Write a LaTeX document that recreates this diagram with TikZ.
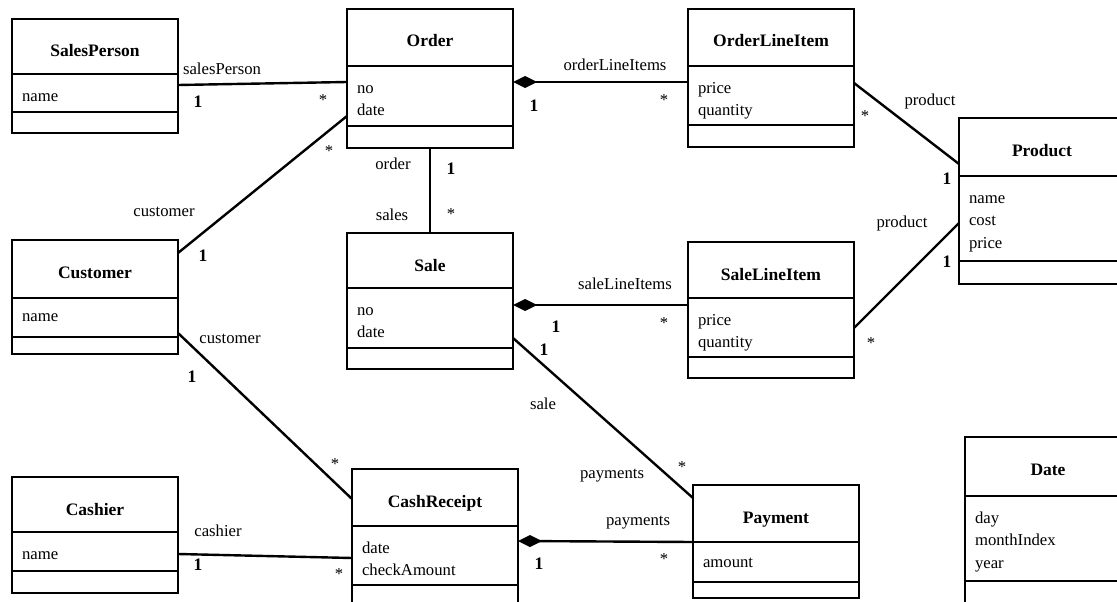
\documentclass[tikz,border=0pt]{standalone}
\usepackage{fontspec}
\setmainfont{Liberation Serif}
\usetikzlibrary{positioning,arrows.meta}

\begin{document}
\begin{tikzpicture}[x=1pt, y=-1pt, node distance=0pt]
	% Define styles
	\tikzstyle{classname} = [rectangle, draw, line width=2.8pt, outer sep=0pt, inner ysep=0pt, anchor=north west, minimum width=166pt, text height=38pt, font=\fontsize{17.5}{21}\selectfont\bfseries]
	\tikzstyle{attrs} = [rectangle, draw, line width=2.8pt, outer sep=0pt, minimum width=166pt, text width=146pt, inner xsep=10pt, inner ysep=0pt, text height=27pt, align=left, font=\fontsize{16.7}{22.5}\selectfont]
	\tikzstyle{ops} = [rectangle, draw, line width=2.8pt, outer sep=0pt, inner sep=0pt, minimum width=166pt]
	\tikzstyle{assoc} = [line width=2.4pt]
	\tikzstyle{comp} = [assoc, {Diamond[length=24pt,width=12pt]}-]
	\tikzstyle{role} = [font=\fontsize{16.7}{20}\selectfont, inner sep=0pt]
	\tikzstyle{mult} = [font=\fontsize{17.5}{20}\selectfont\bfseries, inner sep=0pt]

	\path[use as bounding box, clip] (0,0) rectangle (1117,602);

	% Nodes
	\node[classname, text depth=17pt] (salesperson) at (12,19) {SalesPerson};
	\node[attrs, text depth=11pt, below=of salesperson] (salesperson-attr) {name};
	\node[ops, minimum height=21pt, below=of salesperson-attr] (salesperson-ops) {};

	\node[classname, text depth=20pt] (customer) at (12,240) {Customer};
	\node[attrs, text height=23pt, text depth=16pt, below=of customer] (customer-attr) {name};
	\node[ops, minimum height=17pt, below=of customer-attr] (customer-ops) {};

	\node[classname, text depth=17pt] (cashier) at (12,477) {Cashier};
	\node[attrs, text depth=12pt, below=of cashier] (cashier-attr) {name};
	\node[ops, minimum height=22pt, below=of cashier-attr] (cashier-ops) {};

	\node[classname, text depth=19pt] (order) at (347,9) {Order};
	\node[attrs, text depth=33pt, below=of order] (order-attr) {no\\date};
	\node[ops, minimum height=22pt, below=of order-attr] (order-ops) {};

	\node[classname, text depth=17pt] (sale) at (347,233) {Sale};
	\node[attrs, text depth=33pt, below=of sale] (sale-attr) {no\\date};
	\node[ops, minimum height=21pt, below=of sale-attr] (sale-ops) {};

	\node[classname, text depth=19pt] (cashreceipt) at (352,469) {CashReceipt};
	\node[attrs, text depth=32pt, below=of cashreceipt] (cashreceipt-attr) {date\\checkAmount};
	\node[ops, minimum height=24pt, below=of cashreceipt-attr] (cashreceipt-ops) {};

	\node[classname, text depth=19pt] (orderlineitem) at (688,9) {OrderLineItem};
	\node[attrs, text depth=32pt, below=of orderlineitem] (orderlineitem-attr) {price\\quantity};
	\node[ops, minimum height=22pt, below=of orderlineitem-attr] (orderlineitem-ops) {};

	\node[classname, text depth=18pt] (salelineitem) at (688,242) {SaleLineItem};
	\node[attrs, text depth=32pt, below=of salelineitem] (salelineitem-attr) {price\\quantity};
	\node[ops, minimum height=21pt, below=of salelineitem-attr] (salelineitem-ops) {};

	\node[classname, text depth=19pt] (payment) at (693,485) {Payment};
	\node[attrs, text height=25pt, text depth=15pt, below=of payment] (payment-attr) {amount};
	\node[ops, minimum height=16pt, below=of payment-attr] (payment-ops) {};

	\node[classname, text depth=20pt] (product) at (959,118) {Product};
	\node[attrs, text depth=58pt, below=of product] (product-attr) {name\\cost\\price};
	\node[ops, minimum height=23pt, below=of product-attr] (product-ops) {};

	\node[classname, text depth=21pt] (date) at (965,437) {Date};
	\node[attrs, text depth=58pt, below=of date] (date-attr) {day\\monthIndex\\year};
	\node[ops, minimum height=24pt, below=of date-attr] (date-ops) {};

	% Arrows
	\draw[assoc] ([yshift=-11pt]salesperson-attr.north east) -- ([yshift=-16pt]order-attr.north west);
	\draw[assoc] ([yshift=-13pt]customer.north east) -- ([yshift=-50pt]order-attr.north west);
	\draw[assoc] (order-ops.south) -- (sale.north);
	\draw[comp] ([yshift=-16pt]order-attr.north east) -- ([yshift=-16pt]orderlineitem-attr.north west);
	\draw[assoc] ([yshift=-17pt]orderlineitem-attr.north east) -- ([yshift=-46pt]product.north west);
	\draw[assoc] ([yshift=-30pt]salelineitem-attr.north east) -- ([yshift=-47pt]product-attr.north west);
	\draw[comp] ([yshift=-17pt]sale-attr.north east) -- ([yshift=-7pt]salelineitem-attr.north west);
	\draw[assoc] ([yshift=-50pt]sale-attr.north east) -- ([yshift=-13pt]payment.north west);
	\draw[assoc] ([yshift=-35pt]customer-attr.north east) -- ([yshift=-30pt]cashreceipt.north west);
	\draw[assoc] ([yshift=-22pt]cashier-attr.north east) -- ([yshift=-32pt]cashreceipt-attr.north west);
	\draw[comp] ([yshift=-15pt]cashreceipt-attr.north east) -- (payment-attr.north west);

	% Roles and multiplicities
	\node[role] (role-salesperson) at (222,69) {salesPerson};
	\node[mult] (mult-salesperson) at (198,102) {1};
	\node[role] (mult-order-sp) at (323,100) {*};
	\node[role] (role-customer-order) at (164,212) {customer};
	\node[mult] (mult-customer-order) at (203,256) {1};
	\node[role] (mult-order-cust) at (329,151) {*};
	\node[role] (role-order) at (393,164) {order};
	\node[mult] (mult-order) at (451,169) {1};
	\node[role] (role-sales) at (392,215) {sales};
	\node[role] (mult-sales) at (451,214) {*};
	\node[role] (role-orderlineitems) at (615,65) {orderLineItems};
	\node[mult] (mult-order-oli) at (534,106) {1};
	\node[role] (mult-oli) at (664,100) {*};
	\node[role] (role-product-oli) at (930,101) {product};
	\node[role] (mult-oli-product) at (865,116) {*};
	\node[mult] (mult-product-oli) at (947,179) {1};
	\node[role] (role-product-sli) at (902,223) {product};
	\node[mult] (mult-product-sli) at (947,262) {1};
	\node[role] (mult-sli-product) at (871,343) {*};
	\node[role] (role-salelineitems) at (625,284) {saleLineItems};
	\node[mult] (mult-sale-sli) at (556,327) {1};
	\node[role] (mult-sli) at (664,323) {*};
	\node[mult] (mult-sale-payment) at (544,350) {1};
	\node[role] (role-sale) at (543,404) {sale};
	\node[role] (mult-payment-sale) at (682,467) {*};
	\node[role] (role-payments-sale) at (612,476) {payments};
	\node[role] (role-customer-cr) at (230,339) {customer};
	\node[mult] (mult-customer-cr) at (192,377) {1};
	\node[role] (mult-cr-customer) at (335,464) {*};
	\node[role] (role-cashier) at (218,531) {cashier};
	\node[mult] (mult-cashier) at (198,565) {1};
	\node[role] (mult-cr-cashier) at (339,574) {*};
	\node[role] (role-payments-cr) at (638,523) {payments};
	\node[mult] (mult-cr-payment) at (539,564) {1};
	\node[role] (mult-payment-cr) at (664,559) {*};
\end{tikzpicture}
\end{document}
